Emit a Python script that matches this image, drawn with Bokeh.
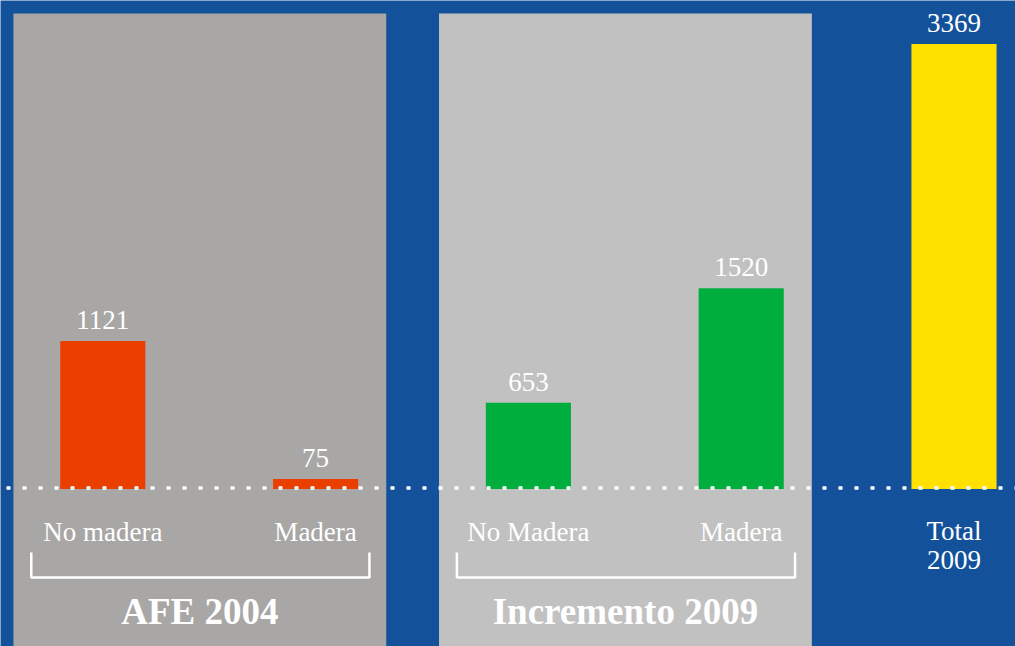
from bokeh.plotting import figure
from bokeh.models import Range1d, Span, ColumnDataSource
from bokeh.core.properties import value
from bokeh.embed import file_html
from bokeh.resources import INLINE

# ---- data ----
categories = ["No madera", "Madera", "No Madera", "Madera", "Total\n2009"]
values = [1121, 75, 653, 1520, 3369]
groups = ["AFE 2004", "AFE 2004", "Incremento 2009", "Incremento 2009", ""]

# ---- styles ----
bar_colors = ["#EA3F00", "#EA3F00", "#00AE3E", "#00AE3E", "#FFE100"]
panel_colors = {"AFE 2004": "#A8A7A5", "Incremento 2009": "#C1C1C1"}
BG = "#13529B"
FONT = "Liberation Serif"

W, H = 1015, 646
BASE_PX = 488.5          # pixel row of the zero line
PX_PER_UNIT = 445 / 3369  # vertical scale
X_CENTER2 = 527.9        # pixel column of category index 2
PX_PER_IDX = 212.8


def py(row):
    return (BASE_PX - row) / PX_PER_UNIT


x_start = 2 - X_CENTER2 / PX_PER_IDX
x_end = 2 + (W - X_CENTER2) / PX_PER_IDX
y_start = py(H)
y_end = py(0)

p = figure(width=W, height=H, output_backend="svg", toolbar_location=None,
           x_range=Range1d(x_start, x_end), y_range=Range1d(y_start, y_end),
           min_border=0)
p.axis.visible = False
p.grid.visible = False
p.outline_line_color = None
p.background_fill_color = BG
p.border_fill_color = BG

idx = list(range(len(categories)))

# group panels
grp_names = [g for g in dict.fromkeys(groups) if g]
for g in grp_names:
    members = [i for i, gg in enumerate(groups) if gg == g]
    first, last = min(members), max(members)
    p.quad(left=[first - 0.42], right=[last + 0.332], top=[py(13)], bottom=[y_start],
           fill_color=panel_colors[g], line_color=None)
    # bracket
    bl, br = first - 0.336, last + 0.253
    p.line(x=[bl, bl, br, br], y=[py(552), py(577), py(577), py(552)],
           line_color="white", line_width=2.5)
    # group title
    p.text(x=[(first - 0.42 + last + 0.332) / 2], y=[py(611)], text=[g],
           text_font=value(FONT), text_font_size="37px", text_font_style="bold",
           text_color="white", text_align="center", text_baseline="alphabetic")

n_lines = [c.count("\n") + 1 for c in categories]
src = ColumnDataSource(dict(x=idx, top=values, color=bar_colors,
                            label=[str(v) for v in values], cat=categories,
                            cat_off=[14 * (n - 1) for n in n_lines]))

p.vbar(x="x", top="top", bottom=0, width=0.4, fill_color="color", line_color=None,
       source=src)

p.text(x="x", y="top", text="label", source=src, y_offset=-21,
       text_font=value(FONT), text_font_size="27px", text_color="white",
       text_align="center", text_baseline="alphabetic")

p.text(x="x", y=py(531), text="cat", source=src, y_offset="cat_off",
       text_font=value(FONT), text_font_size="27px", text_color="white",
       text_align="center", text_baseline="alphabetic", text_line_height=0.98)

p.add_layout(Span(location=py(487.5), dimension="width", line_color="white",
                  line_width=3.5, line_dash="4 12", line_dash_offset=-6))

open("out.html", "w").write(file_html(p, INLINE))
